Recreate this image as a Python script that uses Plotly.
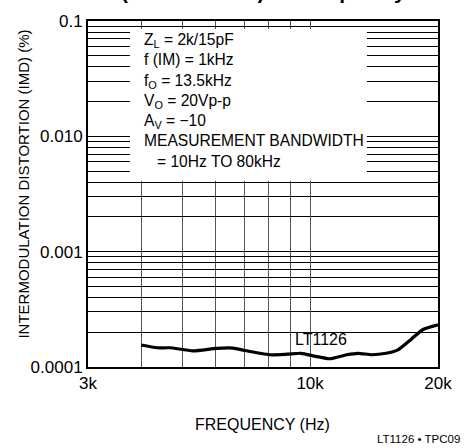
import plotly.graph_objects as go

# data
freq_hz = [4000, 4365, 4677, 5300, 6030, 6590, 6960, 8030, 8830, 9510,
           10305, 11120, 12190, 12960, 13990, 15100, 16050, 17330, 18410, 20000]
imd_pct = [0.000155, 0.0001468, 0.0001468, 0.0001382, 0.0001452, 0.000146,
           0.00014, 0.0001277, 0.0001291, 0.0001315, 0.0001238, 0.0001179,
           0.0001277, 0.0001315, 0.0001277, 0.0001315, 0.00014, 0.0001753,
           0.0002104, 0.0002317]

x_tick_vals = [3000, 10000, 20000]
x_tick_text = ["3k", "10k", "20k"]
x_minor_vals = [4000, 5000, 6000, 7000, 8000, 9000]
y_tick_vals = [0.0001, 0.001, 0.01, 0.1]
y_tick_text = ["0.0001", "0.001", "0.010", "0.1"]

FONT = "Liberation Sans, Arial, sans-serif"

fig = go.Figure()
fig.add_trace(go.Scatter(x=freq_hz, y=imd_pct, mode="lines",
                         line=dict(color="black", width=3.2, shape="spline", smoothing=0.6),
                         showlegend=False, hoverinfo="skip"))

fig.update_xaxes(type="log", range=[3.4771, 4.30103],
                 tickvals=x_tick_vals, ticktext=x_tick_text, ticks="", ticklen=0,
                 showgrid=True, gridcolor="#555555", gridwidth=1,
                 minor=dict(tickvals=x_minor_vals, showgrid=True, gridcolor="#555555", gridwidth=1, ticks=""),
                 showline=True, linecolor="black", linewidth=2, mirror=True,
                 zeroline=False,
                 tickfont=dict(size=17, color="black", family=FONT))
fig.update_yaxes(type="log", range=[-4, -1],
                 tickvals=y_tick_vals, ticktext=y_tick_text, ticks="", ticklen=0,
                 showgrid=True, gridcolor="black", gridwidth=1,
                 minor=dict(dtick="D1", showgrid=True, gridcolor="black", gridwidth=1, ticks=""),
                 showline=True, linecolor="black", linewidth=2, mirror=True,
                 zeroline=False,
                 tickfont=dict(size=17, color="black", family=FONT))

# axis titles
fig.add_annotation(xref="paper", yref="paper", x=0.499, y=-0.165, yanchor="middle",
                   text="FREQUENCY (Hz)", showarrow=False,
                   font=dict(size=16, color="black", family=FONT))
fig.add_annotation(xref="paper", yref="paper", x=-0.183, y=0.53, xanchor="center", yanchor="middle",
                   text="INTERMODULATION DISTORTION (IMD) (%)", showarrow=False, textangle=-90,
                   font=dict(size=15, color="black", family=FONT))

# white box behind the conditions text
fig.add_shape(type="rect", xref="paper", yref="paper", x0=0.12, x1=0.797, y0=0.538, y1=0.977,
              fillcolor="white", line=dict(width=0), layer="above")

cond = ("Z<sub>L</sub> = 2k/15pF<br>f (IM) = 1kHz<br>f<sub>O</sub> = 13.5kHz<br>"
        "V<sub>O</sub> = 20Vp-p<br>A<sub>V</sub> = \u221210<br>MEASUREMENT BANDWIDTH<br>"
        "   = 10Hz TO 80kHz")
fig.add_annotation(xref="paper", yref="paper", x=0.153, y=0.976, xanchor="left", yanchor="top",
                   text=cond, showarrow=False, align="left",
                   font=dict(size=15.6, color="black", family=FONT))
fig.add_annotation(xref="x", yref="y", x=3.96, y=-3.763, text="LT1126", showarrow=False,
                   xanchor="left", yanchor="middle",
                   font=dict(size=16, color="black", family=FONT))
fig.add_annotation(xref="paper", yref="paper", x=0.5, y=1.046, yanchor="bottom",
                   text="<b>(CCIF Method) vs Frequency</b>", showarrow=False,
                   font=dict(size=21, color="black", family=FONT))
fig.add_annotation(xref="paper", yref="paper", x=1.069, y=-0.208, xanchor="right", yanchor="middle",
                   text="LT1126 \u2022 TPC09", showarrow=False,
                   font=dict(size=11.5, color="black", family=FONT))

fig.update_layout(width=467, height=448, margin=dict(l=88, r=29, t=16, b=81),
                  plot_bgcolor="white", paper_bgcolor="white")
fig.write_html("out.html", config={"displayModeBar": False},
               post_script="document.body.style.margin='0px';")
